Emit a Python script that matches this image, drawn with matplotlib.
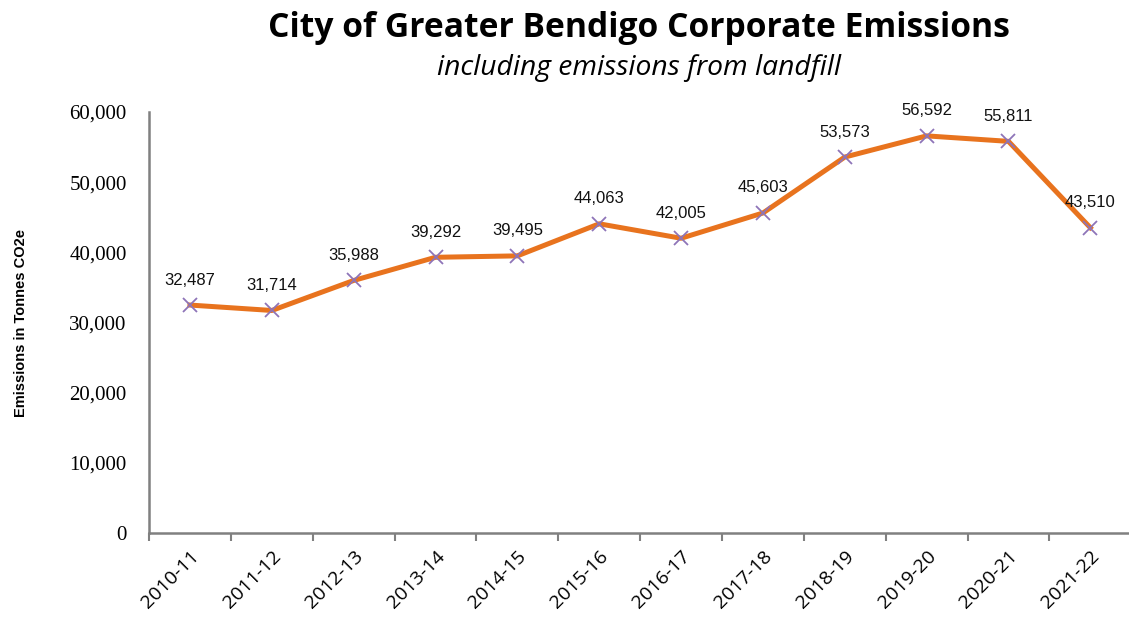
import matplotlib.pyplot as plt
from matplotlib.ticker import FuncFormatter

years = ["2010-11", "2011-12", "2012-13", "2013-14", "2014-15", "2015-16",
         "2016-17", "2017-18", "2018-19", "2019-20", "2020-21", "2021-22"]
emissions = [32487, 31714, 35988, 39292, 39495, 44063,
             42005, 45603, 53573, 56592, 55811, 43510]

fig = plt.figure(figsize=(11.29, 6.22), dpi=100)
ax = fig.add_axes([0.132, 0.143, 0.87, 0.677])

x = list(range(len(years)))
ax.plot(x, emissions, color="#E8731E", linewidth=3.6, zorder=2)
ax.plot(x, emissions, linestyle="none", marker="x", markersize=10,
        markeredgewidth=1.3, color="#8E74B8", zorder=3)

# data labels
for i, v in enumerate(emissions):
    ax.text(i, v + 2500, f"{v:,}", ha="center", va="bottom",
            fontsize=12, family="Liberation Sans", color="#111111")

ax.set_xlim(-0.5, 11.5)
ax.set_ylim(0, 60000)
ax.set_yticks(range(0, 60001, 10000))
ax.yaxis.set_major_formatter(FuncFormatter(lambda v, p: f"{int(v):,}"))
for lab in ax.get_yticklabels():
    lab.set_family("Liberation Serif")
    lab.set_fontsize(15)
ax.tick_params(axis="y", length=0, pad=16)

ax.set_xticks([i - 0.5 for i in range(len(years))], minor=False)
ax.set_xticklabels([])
ax.set_xticks(x, minor=True)
ax.set_xticklabels(years, minor=True, rotation=45, ha="right",
                   rotation_mode="anchor", fontsize=14, family="Open Sans")
ax.tick_params(axis="x", which="major", length=6, color="#808080", width=1.5)
ax.tick_params(axis="x", which="minor", length=0, pad=10)

for s in ["top", "right"]:
    ax.spines[s].set_visible(False)
for s in ["left", "bottom"]:
    ax.spines[s].set_color("#808080")
    ax.spines[s].set_linewidth(1.8)

ax.set_ylabel("Emissions in Tonnes CO2e", fontsize=10.5, fontweight="bold",
              family="Liberation Sans", labelpad=30)

fig.text(0.566, 0.955, "City of Greater Bendigo Corporate Emissions",
         ha="center", va="center", fontsize=24.2, fontweight="bold",
         family="Open Sans")
fig.text(0.566, 0.89, "including emissions from landfill",
         ha="center", va="center", fontsize=20.3, style="italic",
         family="Open Sans")

fig.savefig("out.png", dpi=100)
